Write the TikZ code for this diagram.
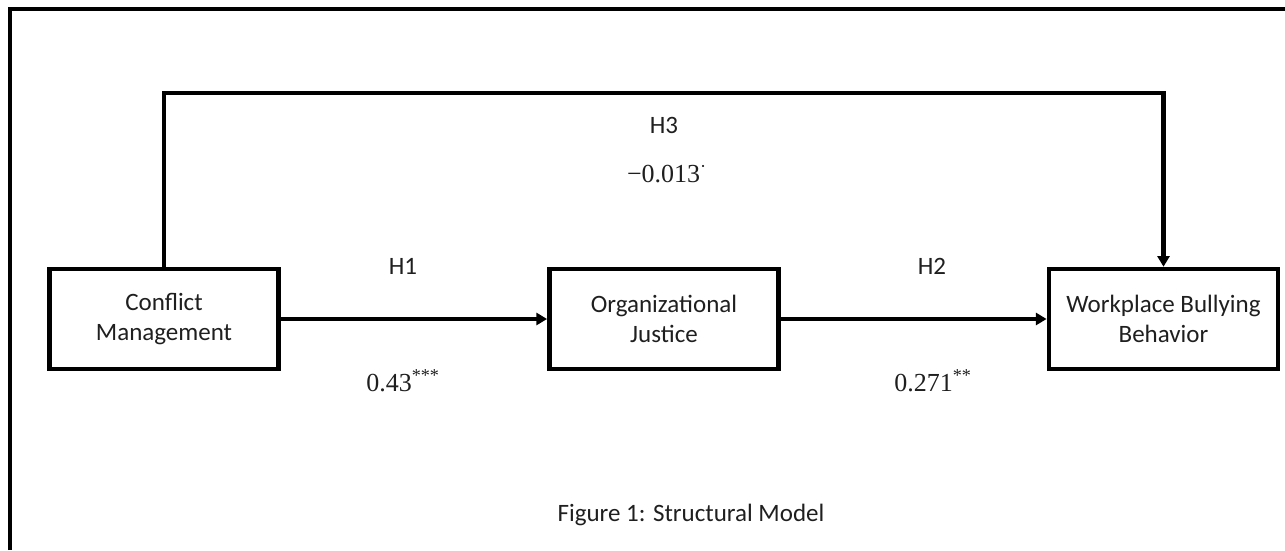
\documentclass[tikz,border=0pt]{standalone}
\usepackage{fontspec}
\setmainfont{Carlito}
\newfontfamily\numfont{Liberation Serif}
\usetikzlibrary{arrows.meta}
\begin{document}
\begin{tikzpicture}[x=0.75pt,y=-0.75pt,
  every node/.style={font=\fontsize{18.75}{23}\selectfont, text=black!88},
  box/.style={draw=black, line width=3.4pt, minimum width=172pt, minimum height=75pt, align=center, inner sep=0pt},
  lbl/.style={inner sep=0pt},
  num/.style={inner sep=0pt, font=\numfont\fontsize{19.5}{22}\selectfont},
  conn/.style={line width=3.4pt, -{Triangle[length=8pt,width=9pt]}},
  frame/.style={line width=3pt}]
\useasboundingbox (0,0) rectangle (1285,550);
\draw[frame] (9.5,550) -- (9.5,8.5) -- (1285,8.5);
\node[box] (cm) at (164,319) {Conflict\\Management};
\node[box] (oj) at (664,319) {Organizational\\Justice};
\node[box] (wbb) at (1163.5,319) {Workplace Bullying\\Behavior};
\coordinate (top) at (664,93);
\draw[conn] (cm.east) -- (oj.west);
\draw[conn] (oj.east) -- (wbb.west);
\draw[conn] (cm.north) |- (top) -| (wbb.north);
\node[lbl] (h1) at (403,266) {H1};
\node[num] (b1) at (403,381) {0.43\textsuperscript{***}};
\node[lbl] (h2) at (932,266) {H2};
\node[num] (b2) at (933,381) {0.271\textsuperscript{**}};
\node[lbl] (h3) at (664,125) {H3};
\node[num] (b3) at (667,174) {−0.013\textsuperscript{·}};
\node[lbl] (cap) at (691,515) {Figure 1: Structural Model};
\end{tikzpicture}
\end{document}
